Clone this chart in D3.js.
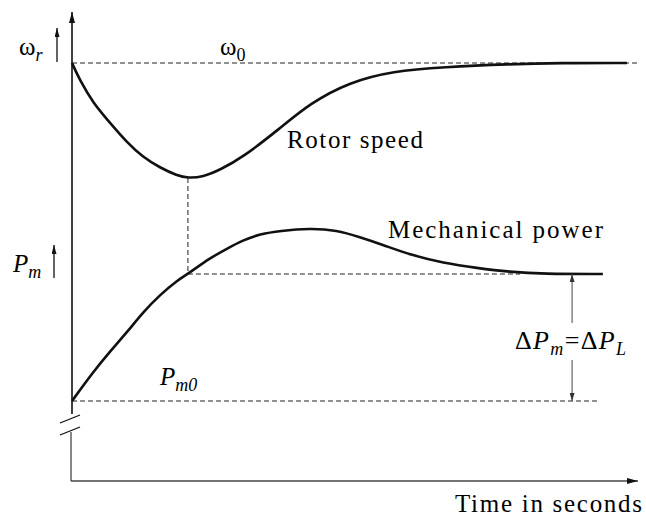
<!DOCTYPE html>
<html><head><meta charset="utf-8"><script src="https://cdn.jsdelivr.net/npm/d3@7"></script></head>
<body style="margin:0">
<svg width="646" height="518"></svg>
<script>
// rotor speed, as deviation from w0 (0 = w0, -1 = lowest dip)
const speedTime  = [0, 0.14, 0.38, 0.68, 0.98, 1.27, 1.57, 1.88, 2.07, 2.34, 2.64, 3.05, 3.71, 4.25, 4.96, 5.73, 6.63, 7.82, 8.71, 9.91];
const speedValue = [0, -0.15, -0.35, -0.52, -0.69, -0.82, -0.91, -0.98, -1, -0.99, -0.93, -0.82, -0.57, -0.35, -0.165, -0.07, -0.035, -0.009, 0, 0];

// mechanical power, as rise above Pm0 (1 = Pm0 + dPL)
const powerTime  = [0, 0.38, 0.68, 0.98, 1.27, 1.57, 1.88, 2.07, 2.46, 2.77, 3.05, 3.36, 3.71, 4.25, 4.73, 5.14, 5.55, 6.04, 6.63, 7.23, 7.82, 8.41, 9.48];
const powerValue = [0, 0.23, 0.39, 0.54, 0.7, 0.835, 0.95, 1, 1.125, 1.2, 1.265, 1.315, 1.34, 1.36, 1.345, 1.29, 1.23, 1.15, 1.087, 1.047, 1.016, 1, 1];

// where the speed dip lines up with the power curve, and where dPL arrow sits
const dipTime = 2.07;
const deltaTime = 8.93;

const svg = d3.select("svg")
  .attr("font-family", "Liberation Serif, serif")
  .style("font-family", "'Liberation Serif', serif");

const x  = d3.scaleLinear().domain([0, 10]).range([72, 632]);
const yW = d3.scaleLinear().domain([-1, 0]).range([178, 63]);
const yP = d3.scaleLinear().domain([0, 1]).range([401, 274]);

// arrow heads
const defs = svg.append("defs");
function marker(id, w, h, col) {
  defs.append("marker")
    .attr("id", id)
    .attr("viewBox", "0 -" + h + " " + w + " " + (2 * h))
    .attr("refX", w).attr("refY", 0)
    .attr("markerUnits", "userSpaceOnUse")
    .attr("markerWidth", w).attr("markerHeight", 2 * h)
    .attr("orient", "auto")
    .append("path")
    .attr("d", "M0,-" + h + "L" + w + ",0L0," + h + "Z")
    .attr("fill", col);
}
marker("axisArrow", 11, 3, "#111");
marker("smallArrow", 9, 2.5, "#111");
marker("thinArrow", 8, 2.5, "#333");

const x0 = x(0);

// axes
svg.append("line")
  .attr("x1", x0).attr("y1", 414).attr("x2", x0).attr("y2", 12)
  .attr("stroke", "#111").attr("stroke-width", 1.6)
  .attr("marker-end", "url(#axisArrow)");
svg.append("line")
  .attr("x1", x0 - 1).attr("y1", 432).attr("x2", x0 - 1).attr("y2", 481)
  .attr("stroke", "#555").attr("stroke-width", 1.4);
svg.append("line")
  .attr("x1", x0 - 1).attr("y1", 481).attr("x2", 638).attr("y2", 481)
  .attr("stroke", "#444").attr("stroke-width", 1.6)
  .attr("marker-end", "url(#axisArrow)");

// break marks
[[423, 415], [435, 427]].forEach(function (p) {
  svg.append("line")
    .attr("x1", x0 - 12).attr("y1", p[0]).attr("x2", x0 + 8).attr("y2", p[1])
    .attr("stroke", "#111").attr("stroke-width", 1.2);
});

// dashed guides
const dash = "5,3";
function dashed(x1, y1, x2, y2) {
  svg.append("line")
    .attr("x1", x1).attr("y1", y1).attr("x2", x2).attr("y2", y2)
    .attr("stroke", "#222").attr("stroke-width", 1).attr("stroke-dasharray", dash);
}
dashed(x(0), yW(0), 640, yW(0));
dashed(x(dipTime), yW(-1), x(dipTime), yP(1));
dashed(x(dipTime), yP(1), x(8), yP(1));
dashed(x(0), yP(0), 600, yP(0));

// curves
const speedLine = d3.line()
  .x(function (d, i) { return x(speedTime[i]); })
  .y(function (d) { return yW(d); })
  .curve(d3.curveBasis);
const powerLine = d3.line()
  .x(function (d, i) { return x(powerTime[i]); })
  .y(function (d) { return yP(d); })
  .curve(d3.curveBasis);

svg.append("path")
  .attr("d", speedLine(speedValue))
  .attr("fill", "none").attr("stroke", "#111").attr("stroke-width", 2.6);
svg.append("path")
  .attr("d", powerLine(powerValue))
  .attr("fill", "none").attr("stroke", "#111").attr("stroke-width", 2.6);

// delta arrow
svg.append("line")
  .attr("x1", x(deltaTime)).attr("y1", 323).attr("x2", x(deltaTime)).attr("y2", yP(1))
  .attr("stroke", "#444").attr("stroke-width", 1)
  .attr("marker-end", "url(#thinArrow)");
svg.append("line")
  .attr("x1", x(deltaTime)).attr("y1", 360).attr("x2", x(deltaTime)).attr("y2", yP(0))
  .attr("stroke", "#444").attr("stroke-width", 1)
  .attr("marker-end", "url(#thinArrow)");

// small arrows next to the y labels
svg.append("line")
  .attr("x1", 57).attr("y1", 62).attr("x2", 57).attr("y2", 28)
  .attr("stroke", "#111").attr("stroke-width", 1.3)
  .attr("marker-end", "url(#smallArrow)");
svg.append("line")
  .attr("x1", 54).attr("y1", 278).attr("x2", 54).attr("y2", 245)
  .attr("stroke", "#111").attr("stroke-width", 1.3)
  .attr("marker-end", "url(#smallArrow)");

// labels
const fs = 25;
function label(px, py, parts) {
  const t = svg.append("text").attr("x", px).attr("y", py)
    .attr("font-size", fs)
    .style("font-family", "'Liberation Serif'");
  parts.forEach(function (p) {
    const s = t.append("tspan").text(p.t).style("font-family", "'Liberation Serif'");
    if (p.i) s.style("font-style", "italic");
    if (p.sub) s.attr("font-size", 18);
    if (p.dy) s.attr("dy", p.dy);
  });
  return t;
}

label(19, 55, [{t: "ω"}, {t: "r", i: true, sub: true, dy: 6}]);
label(220, 55, [{t: "ω"}, {t: "0", sub: true, dy: 6}]);
label(13, 272, [{t: "P", i: true}, {t: "m", i: true, sub: true, dy: 6}]);
label(160, 385, [{t: "P", i: true}, {t: "m0", i: true, sub: true, dy: 6}]);
label(515, 349, [
  {t: "Δ"}, {t: "P", i: true}, {t: "m", i: true, sub: true, dy: 6},
  {t: "=", dy: -6}, {t: "Δ"}, {t: "P", i: true}, {t: "L", i: true, sub: true, dy: 6}
]).attr("font-size", 26).attr("textLength", 111).attr("lengthAdjust", "spacing");

const titles = ["Rotor  speed", "Mechanical  power", "Time  in  seconds"];
const titleX = [287, 388, 455];
const titleY = [148, 238, 512];
const titleW = [136, 215, 187];
svg.selectAll("text.title").data(titles).enter().append("text")
  .attr("class", "title")
  .attr("x", function (d, i) { return titleX[i]; })
  .attr("y", function (d, i) { return titleY[i]; })
  .attr("font-size", fs)
  .style("font-family", "'Liberation Serif'")
  .attr("textLength", function (d, i) { return titleW[i]; })
  .attr("lengthAdjust", "spacing")
  .text(function (d) { return d; });
</script>
</body></html>
